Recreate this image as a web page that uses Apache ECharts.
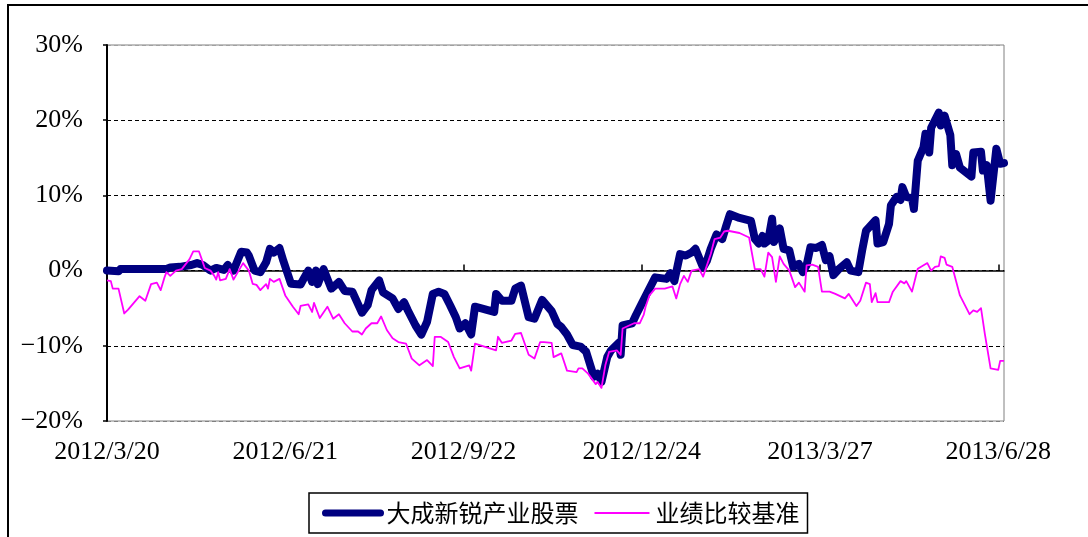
<!DOCTYPE html>
<html><head><meta charset="utf-8">
<script src="https://cdn.jsdelivr.net/npm/echarts@6/dist/echarts.min.js"></script>
<style>html,body{margin:0;padding:0;background:#fff}#c{width:1088px;height:537px}</style>
</head><body><div id="c"></div><script>
const startDate = '2012/3/20';
const endDate = '2013/7/1';
const tickLabels = ['2012/3/20','2012/6/21','2012/9/22','2012/12/24','2013/3/27','2013/6/28'];
const yTickValues = [-20, -10, 0, 10, 20, 30];
const seriesNames = ['大成新锐产业股票', '业绩比较基准'];

const fundSeries = [
['2012-03-20',0.0],['2012-03-26',-0.1],['2012-03-27',0.2],['2012-04-20',0.2],['2012-04-22',0.4],['2012-04-27',0.5],
['2012-05-03',0.75],['2012-05-06',1.0],['2012-05-09',0.75],['2012-05-13',0.0],['2012-05-16',0.35],['2012-05-20',0.1],
['2012-05-22',0.75],['2012-05-23',0.35],['2012-05-25',0.0],['2012-05-29',2.5],['2012-06-01',2.4],['2012-06-02',2.0],
['2012-06-05',0.0],['2012-06-08',-0.2],['2012-06-11',1.1],['2012-06-13',2.9],['2012-06-15',2.4],['2012-06-18',3.0],
['2012-06-20',1.3],['2012-06-24',-1.75],['2012-06-29',-1.85],['2012-07-01',-0.9],['2012-07-03',0.0],['2012-07-05',-1.5],
['2012-07-07',0.0],['2012-07-08',-1.8],['2012-07-11',0.2],['2012-07-15',-2.4],['2012-07-19',-1.5],['2012-07-22',-2.7],
['2012-07-26',-2.8],['2012-07-31',-5.6],['2012-08-03',-4.6],['2012-08-05',-2.6],['2012-08-09',-1.3],['2012-08-11',-2.9],
['2012-08-16',-3.7],['2012-08-19',-5.1],['2012-08-22',-4.2],['2012-08-24',-5.3],['2012-08-28',-7.3],['2012-08-31',-8.5],
['2012-09-03',-6.8],['2012-09-06',-3.1],['2012-09-09',-2.8],['2012-09-12',-3.1],['2012-09-15',-4.6],['2012-09-18',-6.2],
['2012-09-20',-7.7],['2012-09-23',-7.0],['2012-09-26',-8.5],['2012-09-28',-4.8],['2012-10-08',-5.5],['2012-10-09',-3.1],
['2012-10-12',-4.0],['2012-10-17',-4.0],['2012-10-19',-2.4],['2012-10-22',-2.0],['2012-10-26',-6.2],['2012-10-29',-6.4],
['2012-11-02',-3.9],['2012-11-07',-5.4],['2012-11-10',-7.1],['2012-11-12',-7.5],['2012-11-15',-8.5],['2012-11-18',-9.9],
['2012-11-22',-10.1],['2012-11-25',-10.8],['2012-11-29',-14.1],['2012-12-01',-13.7],['2012-12-03',-14.8],['2012-12-06',-11.5],
['2012-12-08',-10.6],['2012-12-12',-9.6],['2012-12-13',-11.2],['2012-12-14',-7.3],['2012-12-19',-7.0],['2012-12-21',-5.9],
['2012-12-24',-4.4],['2012-12-27',-2.9],['2012-12-31',-0.9],['2013-01-06',-1.1],['2013-01-08',-0.35],['2013-01-10',-1.4],
['2013-01-13',2.2],['2013-01-16',2.0],['2013-01-19',2.4],['2013-01-21',2.9],['2013-01-25',0.4],['2013-01-27',1.3],
['2013-01-29',2.9],['2013-02-01',4.8],['2013-02-04',4.2],['2013-02-06',5.9],['2013-02-08',7.5],['2013-02-13',7.0],
['2013-02-19',6.6],['2013-02-21',4.2],['2013-02-23',3.6],['2013-02-25',4.6],['2013-02-26',3.6],['2013-02-28',4.0],
['2013-03-02',6.9],['2013-03-03',3.8],['2013-03-06',5.6],['2013-03-08',2.9],['2013-03-11',2.7],['2013-03-13',0.5],
['2013-03-16',0.9],['2013-03-18',-0.2],['2013-03-20',0.7],['2013-03-22',3.1],['2013-03-25',3.0],['2013-03-28',3.4],
['2013-03-30',1.4],['2013-04-01',1.9],['2013-04-03',-0.6],['2013-04-06',0.25],['2013-04-10',1.1],['2013-04-12',0.0],
['2013-04-16',-0.2],['2013-04-18',2.7],['2013-04-20',5.3],['2013-04-25',6.7],['2013-04-26',3.6],['2013-04-29',3.8],
['2013-05-02',6.2],['2013-05-03',8.7],['2013-05-06',9.8],['2013-05-08',9.4],['2013-05-09',11.1],['2013-05-11',9.8],
['2013-05-14',9.6],['2013-05-15',8.2],['2013-05-17',14.6],['2013-05-20',16.4],['2013-05-21',18.2],['2013-05-23',15.7],
['2013-05-24',19.0],['2013-05-28',21.0],['2013-05-29',19.3],['2013-05-31',20.6],['2013-06-03',18.0],['2013-06-04',14.0],
['2013-06-06',15.5],['2013-06-08',13.7],['2013-06-14',12.5],['2013-06-15',15.7],['2013-06-19',15.8],['2013-06-20',13.3],
['2013-06-22',14.0],['2013-06-24',9.3],['2013-06-27',16.2],['2013-06-29',14.2],['2013-07-01',14.3]
];

const benchSeries = [
['2012-03-20',-1.3],['2012-03-22',-1.4],['2012-03-23',-2.4],['2012-03-26',-2.4],['2012-03-29',-5.7],['2012-03-31',-5.2],
['2012-04-06',-3.4],['2012-04-09',-4.0],['2012-04-12',-1.8],['2012-04-15',-1.6],['2012-04-17',-2.6],['2012-04-19',-0.9],
['2012-04-20',-0.2],['2012-04-22',-0.7],['2012-04-23',-0.8],['2012-04-25',0.0],['2012-04-28',0.2],['2012-05-02',1.5],
['2012-05-04',2.55],['2012-05-07',2.55],['2012-05-09',1.1],['2012-05-10',0.35],['2012-05-13',0.0],['2012-05-15',-0.7],
['2012-05-16',-1.2],['2012-05-17',-0.2],['2012-05-18',-1.3],['2012-05-21',-1.1],['2012-05-23',0.2],['2012-05-25',-1.2],
['2012-05-30',1.0],['2012-06-02',0.0],['2012-06-04',-1.76],['2012-06-06',-1.9],['2012-06-08',-2.6],['2012-06-11',-1.8],
['2012-06-12',-2.4],['2012-06-13',-1.1],['2012-06-15',-1.5],['2012-06-18',-1.1],['2012-06-21',-3.3],['2012-06-25',-4.8],
['2012-06-28',-5.8],['2012-06-29',-4.7],['2012-07-03',-4.5],['2012-07-05',-5.5],['2012-07-06',-4.3],['2012-07-09',-6.3],
['2012-07-13',-4.8],['2012-07-16',-6.4],['2012-07-19',-5.8],['2012-07-22',-7.0],['2012-07-26',-8.1],['2012-07-29',-8.1],
['2012-07-31',-8.5],['2012-08-02',-7.7],['2012-08-05',-7.0],['2012-08-08',-7.0],['2012-08-10',-6.1],['2012-08-13',-7.9],
['2012-08-16',-9.0],['2012-08-19',-9.5],['2012-08-23',-9.7],['2012-08-26',-11.7],['2012-08-30',-12.6],['2012-09-03',-11.9],
['2012-09-06',-12.7],['2012-09-07',-8.8],['2012-09-10',-8.8],['2012-09-14',-9.5],['2012-09-17',-11.5],['2012-09-20',-13.0],
['2012-09-25',-12.6],['2012-09-26',-13.3],['2012-09-28',-9.7],['2012-10-09',-10.6],['2012-10-10',-8.8],['2012-10-12',-9.6],
['2012-10-17',-9.3],['2012-10-19',-8.4],['2012-10-22',-8.3],['2012-10-26',-11.2],['2012-10-29',-11.7],['2012-11-01',-9.5],
['2012-11-03',-9.5],['2012-11-07',-9.6],['2012-11-08',-11.5],['2012-11-12',-11.0],['2012-11-15',-13.3],['2012-11-20',-13.5],
['2012-11-21',-13.0],['2012-11-23',-13.0],['2012-11-26',-13.7],['2012-11-30',-15.1],['2012-12-01',-14.8],['2012-12-03',-15.6],
['2012-12-05',-12.6],['2012-12-07',-10.8],['2012-12-11',-10.6],['2012-12-13',-11.2],['2012-12-14',-7.7],['2012-12-20',-7.0],
['2012-12-23',-7.0],['2012-12-25',-5.9],['2012-12-26',-4.8],['2012-12-28',-3.3],['2012-12-31',-2.4],['2013-01-05',-2.4],
['2013-01-09',-2.1],['2013-01-11',-3.7],['2013-01-13',-1.8],['2013-01-15',-0.7],['2013-01-17',-1.5],['2013-01-19',0.0],
['2013-01-23',0.2],['2013-01-25',-0.8],['2013-01-29',2.2],['2013-01-31',4.2],['2013-02-03',4.4],['2013-02-05',5.2],
['2013-02-07',5.3],['2013-02-13',5.0],['2013-02-18',4.4],['2013-02-21',0.2],['2013-02-24',0.2],['2013-02-26',-0.8],
['2013-02-28',2.4],['2013-03-02',1.8],['2013-03-04',-1.5],['2013-03-06',1.9],['2013-03-08',0.9],['2013-03-11',0.0],
['2013-03-14',-2.2],['2013-03-16',-1.6],['2013-03-19',-2.8],['2013-03-20',0.7],['2013-03-23',0.8],['2013-03-26',0.5],
['2013-03-28',-2.8],['2013-04-01',-2.8],['2013-04-04',-3.1],['2013-04-09',-3.7],['2013-04-11',-3.1],['2013-04-15',-4.7],
['2013-04-17',-4.0],['2013-04-18',-4.0],['2013-04-20',-1.6],['2013-04-22',-1.8],['2013-04-23',-4.2],['2013-04-25',-3.0],
['2013-04-26',-4.2],['2013-05-02',-4.2],['2013-05-04',-2.8],['2013-05-08',-1.4],['2013-05-10',-1.7],['2013-05-11',-1.4],
['2013-05-14',-2.8],['2013-05-17',0.25],['2013-05-22',1.0],['2013-05-24',0.0],['2013-05-26',0.5],['2013-05-28',0.6],
['2013-05-29',1.9],['2013-05-31',1.7],['2013-06-01',0.8],['2013-06-04',0.5],['2013-06-08',-3.3],['2013-06-13',-5.8],
['2013-06-15',-5.3],['2013-06-17',-5.5],['2013-06-19',-5.0],['2013-06-21',-8.4],['2013-06-22',-8.6],['2013-06-24',-13.0],
['2013-06-28',-13.2],['2013-06-29',-12.0],['2013-07-01',-12.0]
];

function utc(s){const p=s.split(/[-\/]/).map(Number);return Date.UTC(p[0],p[1]-1,p[2]);}
const base = utc(startDate);
function dayIndex(s){return Math.round((utc(s)-base)/86400000);}
const maxDay = dayIndex(endDate);
const tickDays = tickLabels.map(dayIndex);
const labelMap = {};
tickLabels.forEach((l,i)=>{labelMap[tickDays[i]]=l;});

const FONT = '"Liberation Serif","Noto Sans CJK SC",serif';
const chart = echarts.init(document.getElementById('c'));
chart.setOption({
  animation: false,
  backgroundColor: '#fff',
  grid: {left:107, right:84, top:45, bottom:116, show:true, borderColor:'#808080', borderWidth:1, backgroundColor:'transparent'},
  xAxis: [
    {type:'value', min:0, max:maxDay, position:'bottom',
     axisLine:{show:false, onZero:false}, axisTick:{show:false}, splitLine:{show:false},
     axisLabel:{customValues:tickDays, formatter:v=>labelMap[v]||'', margin:18, fontSize:26, fontFamily:FONT, color:'#000'}},
    {type:'value', min:0, max:maxDay, position:'top',
     axisLine:{show:true, onZero:true, lineStyle:{color:'#000', width:1.5}},
     axisTick:{show:true, customValues:tickDays, length:6, inside:false, lineStyle:{color:'#000', width:1.5}},
     axisLabel:{show:false}, splitLine:{show:false}}
  ],
  yAxis: {type:'value', min:yTickValues[0], max:yTickValues[yTickValues.length-1], interval:10,
    axisLine:{show:true, onZero:false, lineStyle:{color:'#000', width:2}},
    axisTick:{show:true, length:4, lineStyle:{color:'#000', width:1.5}},
    axisLabel:{formatter:v=>(v<0?'\u2212'+Math.abs(v):v)+'%', fontSize:26, margin:24, fontFamily:FONT, color:'#000'},
    splitLine:{show:true, lineStyle:{type:[4,3], width:1, color:['#808080','#000','#000','#000','#000','#a0a0a0']}}
  },
  legend: {left:309, top:493, orient:'horizontal', padding:[8,8,8,13], itemGap:15, itemWidth:55, itemHeight:14,
    borderColor:'#000', borderWidth:1.5, selectedMode:false,
    textStyle:{fontSize:24, fontFamily:'"Noto Sans CJK SC",sans-serif', color:'#000', padding:[0,0,0,1]},
    itemStyle:{opacity:0},
    data:[
      {name:seriesNames[0], lineStyle:{width:7, color:'#000080', cap:'round'}},
      {name:seriesNames[1], lineStyle:{width:2, color:'#FF00FF'}}
    ]},
  graphic: [{type:'rect', silent:true, z:100, shape:{x:8, y:5, width:1200, height:700}, style:{fill:null, stroke:'#000', lineWidth:2}}],
  series: [
    {name:seriesNames[0], type:'line', data:fundSeries.map(d=>[dayIndex(d[0]),d[1]]), symbol:'none', showSymbol:false,
     lineStyle:{color:'#000080', width:8, cap:'round', join:'round'}, itemStyle:{color:'#000080'}, z:3},
    {name:seriesNames[1], type:'line', data:benchSeries.map(d=>[dayIndex(d[0]),d[1]]), symbol:'none', showSymbol:false,
     lineStyle:{color:'#FF00FF', width:1.8, join:'round'}, itemStyle:{color:'#FF00FF'}, z:4}
  ]
});
</script></body></html>
